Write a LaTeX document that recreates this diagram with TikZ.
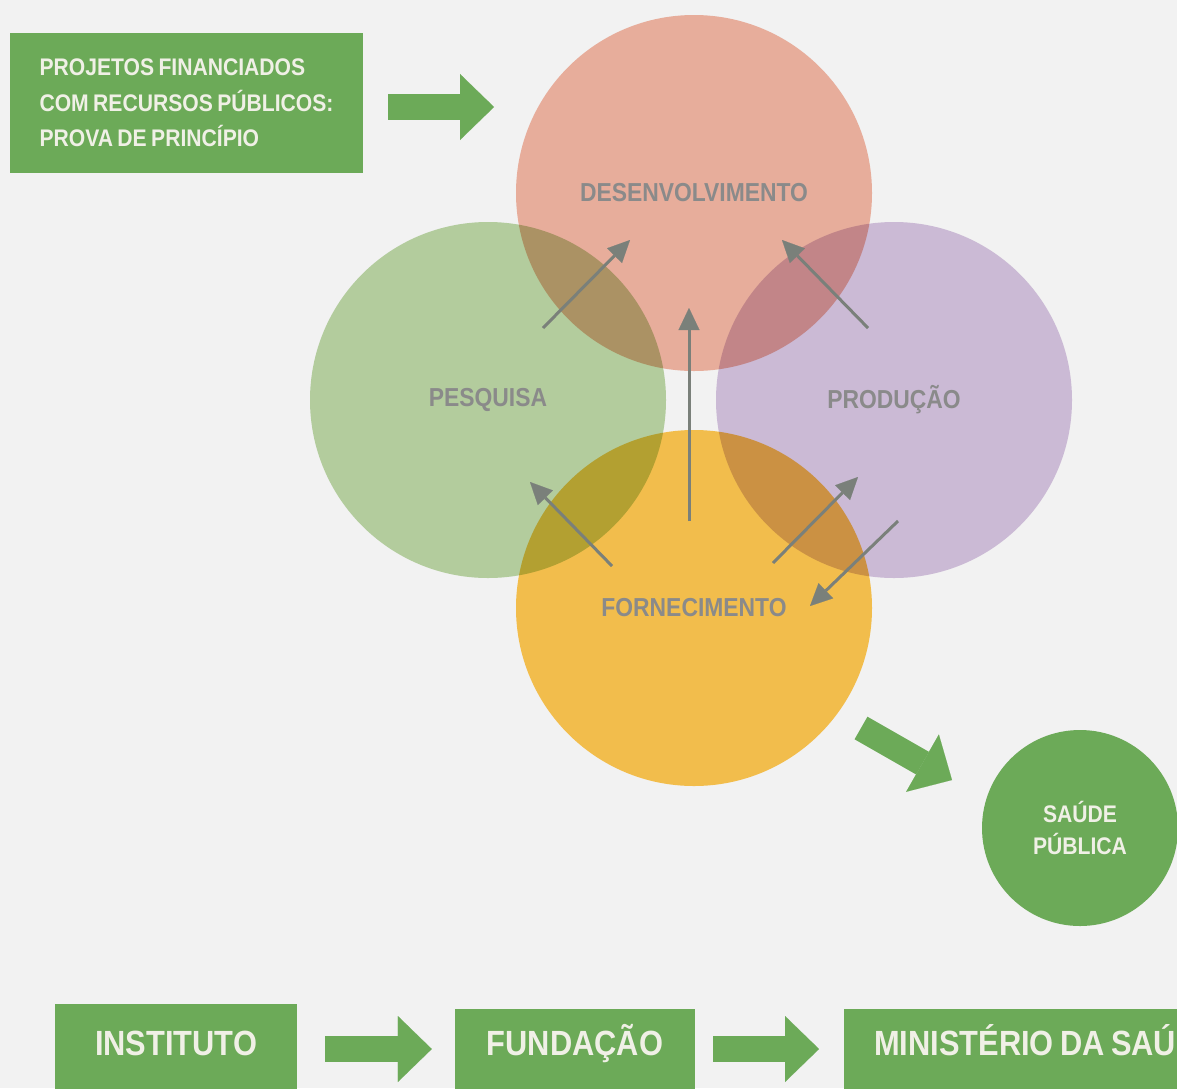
\documentclass[tikz,border=0pt]{standalone}
\usepackage{fontspec}
\setmainfont{Liberation Sans}[FakeStretch=0.88, WordSpace=0.75]
\usetikzlibrary{arrows.meta,positioning}

\definecolor{paper}{RGB}{242,242,242}
\definecolor{boxgreen}{RGB}{108,170,88}
\definecolor{boxtext}{RGB}{240,240,230}
\definecolor{labelgrey}{RGB}{138,138,138}
\definecolor{arrowgrey}{RGB}{122,128,122}
\definecolor{stagepink}{RGB}{244,183,164}
\definecolor{stagegreen}{RGB}{189,215,166}
\definecolor{stagepurple}{RGB}{214,196,225}
\definecolor{stageorange}{RGB}{255,200,81}

\tikzset{%
  every stage/.style={
    circle,
    minimum size=356pt,
    inner sep=0pt
  },
  stage pesq/.style={fill=stagegreen},
  stage prod/.style={fill=stagepurple},
  stage desenv/.style={fill=stagepink},
  stage forn/.style={fill=stageorange},
  stage label/.style={
    text=labelgrey,
    font=\fontsize{26}{30}\selectfont\bfseries
  },
  every box/.style={
    rectangle,
    fill=boxgreen,
    text=boxtext,
    inner sep=0pt
  },
  bottom box/.style={
    minimum height=90pt,
    text height=25pt,
    text depth=12pt,
    font=\fontsize{35}{40}\selectfont\bfseries
  },
  flow/.style={
    draw=arrowgrey,
    line width=3pt,
    -{Triangle[length=22pt,width=21pt,line width=0.1pt]}
  },
  blockarrow/.style={
    draw=boxgreen,
    line width=26pt,
    -{Triangle[length=34pt,width=66pt,line width=0.1pt]}
  },
}

\begin{document}
\begin{tikzpicture}[x=1pt, y=-1pt]

\useasboundingbox (0,0) rectangle (1177,1088);
\fill [paper] (0,0) rectangle (1177,1088);

% the four stages
\begin{scope}[blend mode=multiply]
\foreach \m/\x/\y in {pesq/488/400, prod/894/400, desenv/694/193, forn/694/608}
  \node [every stage/.try, stage \m/.try] (\m) at (\x,\y) {};
\end{scope}

\foreach \m/\l in {pesq/PESQUISA, prod/PRODUÇÃO, desenv/DESENVOLVIMENTO,
    forn/FORNECIMENTO}
  \node [stage label] (\m-label) at (\m) {\l};

\foreach \s/\sx/\sy/\t/\tx/\ty in {pesq/55/-72/desenv/-64/47,
    prod/-26/-72/desenv/88/47, forn/-5/-87/desenv/-5/115,
    forn/-82/-42/pesq/42/82, forn/79/-45/prod/-36/77,
    prod/4/121/forn/116/-2}
  \draw [flow] ([shift={(\sx,\sy)}]\s.center) -- ([shift={(\tx,\ty)}]\t.center);

% boxes
\node [every box/.try, minimum width=353pt, minimum height=140pt,
    align=left, font=\fontsize{24}{35.5}\selectfont\bfseries] (proj) at (186.5,103)
  {PROJETOS FINANCIADOS\\COM RECURSOS PÚBLICOS:\\PROVA DE PRINCÍPIO};

\node [every box/.try, circle, minimum size=196pt, align=center,
    font=\fontsize{24}{32}\selectfont\bfseries] (saude) at (1080,828)
  {SAÚDE\\PÚBLICA};

\node [every box/.try, bottom box, minimum width=242pt] (inst) at (176,1049) {INSTITUTO};
\node [every box/.try, bottom box, minimum width=240pt, minimum height=80pt]
  (fund) at (575,1049) {FUNDAÇÃO};
\node [every box/.try, bottom box, anchor=west, minimum width=380pt,
    minimum height=80pt, text width=320pt, align=flush left] (min) at (844,1049)
  {MINISTÉRIO DA SAÚ};

% block arrows
\draw [blockarrow] ([shift={(25,4)}]proj.east) -- ([shift={(-200,-86)}]desenv.center);
\draw [blockarrow] ([shift={(167,120)}]forn.center) -- ([shift={(-128,-48)}]saude.center);
\draw [blockarrow] ([xshift=28pt]inst.east) -- ([xshift=-23pt]fund.west);
\draw [blockarrow] ([xshift=18pt]fund.east) -- ([xshift=-25pt]min.west);

\end{tikzpicture}
\end{document}
